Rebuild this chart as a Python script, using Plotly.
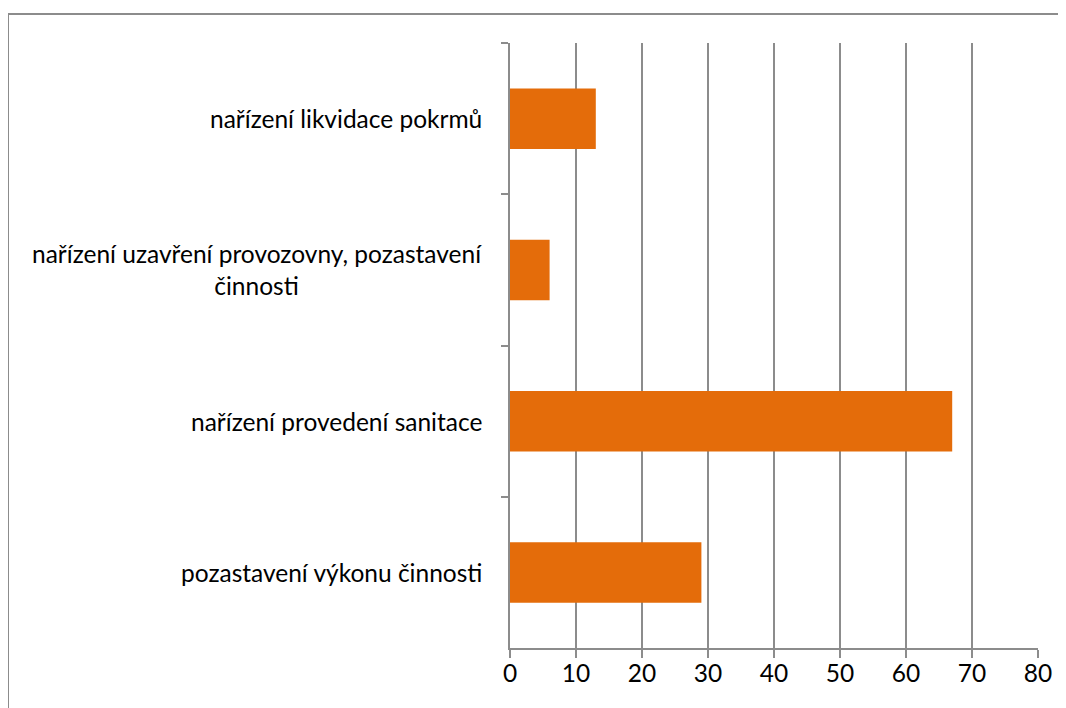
import plotly.graph_objects as go

categories = [
    "nařízení likvidace pokrmů",
    "nařízení uzavření provozovny, pozastavení<br>činnosti",
    "nařízení provedení sanitace",
    "pozastavení výkonu činnosti",
]
values = [13, 6, 67, 29]
x_ticks = [0, 10, 20, 30, 40, 50, 60, 70, 80]

BAR = "#E46C0A"
GRID = "#8C8C8C"
FONT = "Lato"
FS = 24.5

fig = go.Figure(
    go.Bar(
        x=values,
        y=categories,
        orientation="h",
        marker=dict(color=BAR, line=dict(width=0)),
        width=0.4,
        hoverinfo="x+y",
    )
)

# page body has an 8px offset; compensate in margins
OFF = 8
W, H = 1066, 708
L, R, T, B = 510 - OFF, 28 + OFF, 43 - OFF, 60 + OFF

fig.update_layout(
    width=W,
    height=H,
    margin=dict(l=L, r=R, t=T, b=B),
    paper_bgcolor="white",
    plot_bgcolor="white",
    showlegend=False,
    font=dict(family=FONT, size=FS, color="#000000"),
)

fig.update_xaxes(
    range=[0, 80],
    tickvals=x_ticks,
    ticktext=[str(v) for v in x_ticks],
    showgrid=True,
    gridcolor=GRID,
    gridwidth=1.5,
    showline=True,
    linecolor=GRID,
    linewidth=1.5,
    ticks="outside",
    ticklen=8,
    tickwidth=1.5,
    tickcolor=GRID,
    ticklabelstandoff=-5,
    zeroline=False,
    tickfont=dict(family=FONT, size=FS, color="#000000"),
)

fig.update_yaxes(
    categoryorder="array",
    categoryarray=categories,
    autorange="reversed",
    showticklabels=False,
    showline=True,
    linecolor=GRID,
    linewidth=1.5,
    ticks="outside",
    tickson="boundaries",
    ticklen=7,
    tickwidth=1.5,
    tickcolor=GRID,
    showgrid=False,
    zeroline=False,
)

for c in categories:
    fig.add_annotation(
        x=0, xref="paper", xanchor="right", xshift=-26,
        y=c, yref="y", yanchor="middle",
        text=c, showarrow=False, align="center",
        font=dict(family=FONT, size=FS, color="#000000"),
    )

# outer chart border (top and left edges visible)
pw = W - L - R
ph = H - T - B
bx = (8 - OFF - L) / pw
by = (H - B - (14 - OFF)) / ph
fig.add_shape(type="line", xref="paper", yref="paper",
              x0=bx, y0=by, x1=(W + 20 - L) / pw, y1=by,
              line=dict(color="#8C8C8C", width=2))
fig.add_shape(type="line", xref="paper", yref="paper",
              x0=bx, y0=by, x1=bx, y1=-(B + 20) / ph,
              line=dict(color="#8C8C8C", width=2))

fig.write_html("out.html")
